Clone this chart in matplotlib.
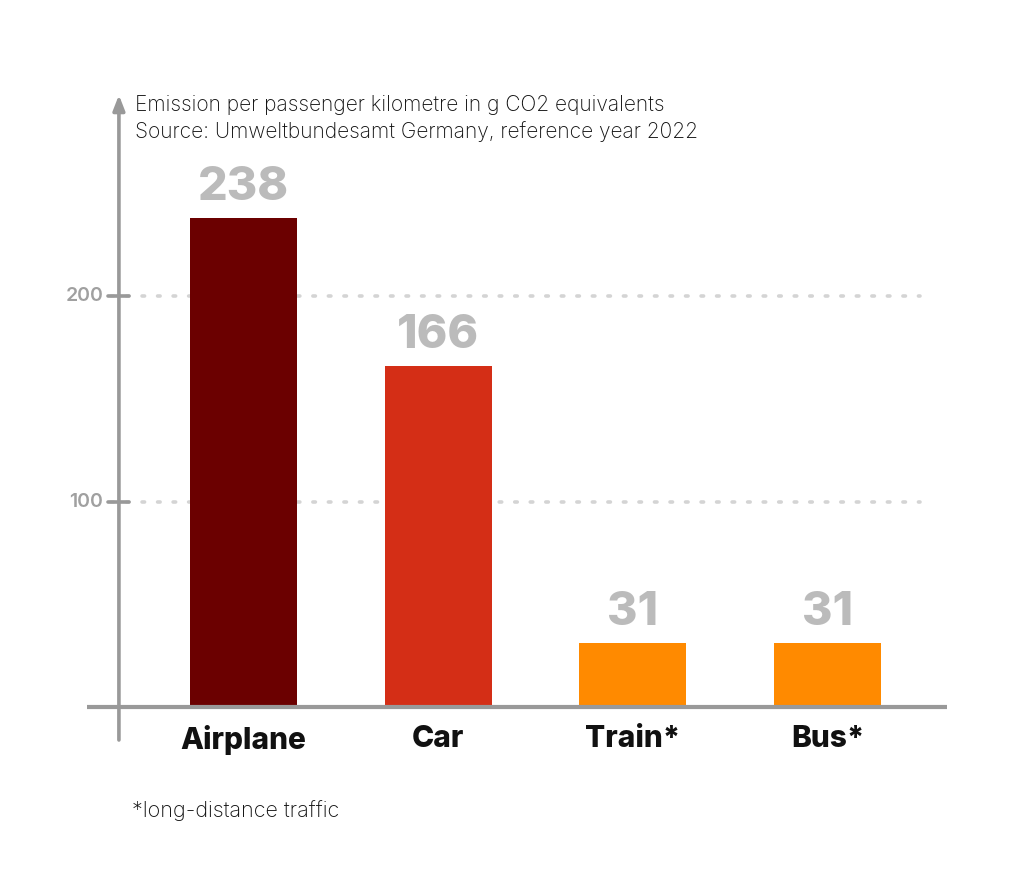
import matplotlib.pyplot as plt

categories = ['Airplane', 'Car', 'Train*', 'Bus*']
values = [238, 166, 31, 31]
bar_colors = ['#6b0000', '#d42e16', '#ff8a00', '#ff8a00']
grid_values = [100, 200]
grid_labels = ['100', '200']

plt.rcParams['font.family'] = ['Inter', 'DejaVu Sans']

fig = plt.figure(figsize=(10.28, 8.77), dpi=100)
ax = fig.add_axes([87 / 1028, 137 / 877, 860 / 1028, 645 / 877])
ax.set_xlim(-0.804, 3.614)
ax.set_ylim(-16, 297.8)
ax.axis('off')

axis_gray = '#999999'
yaxis_x = -0.640

# dotted grid lines + short ticks on the axis
for v, lab in zip(grid_values, grid_labels):
    ax.plot([-0.68, 3.475], [v, v], color='#d4d4d4', linewidth=2.6,
            linestyle=(0, (0.7, 3.6)), dash_capstyle='round', zorder=1)
    ax.plot([-0.696, -0.59], [v, v], color=axis_gray, linewidth=2.6,
            solid_capstyle='round', zorder=3)
    ax.text(-0.72, v, lab, ha='right', va='center', fontsize=14,
            color='#a0a0a0', fontweight='semibold')

bars = ax.bar(range(len(categories)), values, width=0.55, color=bar_colors, zorder=2)

for i, v in enumerate(values):
    ax.text(i, v + 4, str(v), ha='center', va='bottom', fontsize=33.5,
            fontweight='heavy', color='#bbbbbb')
    ax.text(i, -8.5, categories[i], ha='center', va='top', fontsize=21.5,
            fontweight='heavy', color='#111111')

# x axis line
ax.plot([-0.804, 3.614], [0, 0], color=axis_gray, linewidth=3, zorder=3)

# y axis with arrow
ax.annotate('', xy=(yaxis_x, 297.8), xytext=(yaxis_x, -16),
            arrowprops=dict(arrowstyle='-|>,head_length=0.9,head_width=0.35',
                            color=axis_gray, linewidth=2.6, shrinkA=0, shrinkB=0),
            zorder=3)

fig.text(135 / 1028, 1 - 105 / 877, 'Emission per passenger kilometre in g CO2 equivalents',
         ha='left', va='center', fontsize=15.1, color='#111111', fontweight='light')
fig.text(135 / 1028, 1 - 132 / 877, 'Source: Umweltbundesamt Germany, reference year 2022',
         ha='left', va='center', fontsize=15.1, color='#111111', fontweight='light')
fig.text(132 / 1028, 1 - 811 / 877, '*long-distance traffic',
         ha='left', va='center', fontsize=15.5, color='#111111', fontweight='light')

fig.savefig('out.png', dpi=100, facecolor='white')
